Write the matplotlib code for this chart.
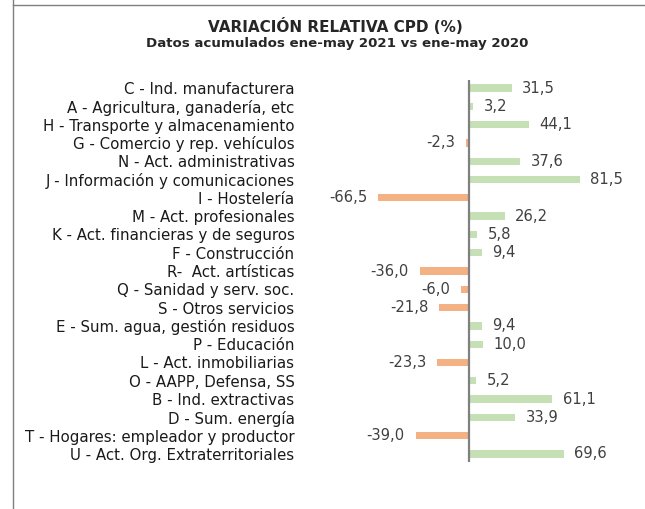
import matplotlib
matplotlib.use("Agg")
import matplotlib.pyplot as plt
from matplotlib.lines import Line2D

categories = [
    "C - Ind. manufacturera",
    "A - Agricultura, ganadería, etc",
    "H - Transporte y almacenamiento",
    "G - Comercio y rep. vehículos",
    "N - Act. administrativas",
    "J - Información y comunicaciones",
    "I - Hostelería",
    "M - Act. profesionales",
    "K - Act. financieras y de seguros",
    "F - Construcción",
    "R-  Act. artísticas",
    "Q - Sanidad y serv. soc.",
    "S - Otros servicios",
    "E - Sum. agua, gestión residuos",
    "P - Educación",
    "L - Act. inmobiliarias",
    "O - AAPP, Defensa, SS",
    "B - Ind. extractivas",
    "D - Sum. energía",
    "T - Hogares: empleador y productor",
    "U - Act. Org. Extraterritoriales",
]
values = [31.5, 3.2, 44.1, -2.3, 37.6, 81.5, -66.5, 26.2, 5.8, 9.4, -36.0,
          -6.0, -21.8, 9.4, 10.0, -23.3, 5.2, 61.1, 33.9, -39.0, 69.6]

GREEN = "#c5e0b4"
ORANGE = "#f4b183"
FONT = "DejaVu Sans"

W, H = 645, 509
fig = plt.figure(figsize=(W / 100, H / 100), dpi=100)

# axes geometry in pixels: zero line at x=469, 1.362 px per unit
ax_left, ax_right = 300, 640
zero_px, scale = 469, 1.362
ax_top, ax_bot = 80, 462
ax = fig.add_axes([ax_left / W, 1 - ax_bot / H,
                   (ax_right - ax_left) / W, (ax_bot - ax_top) / H])
ax.set_xlim((ax_left - zero_px) / scale, (ax_right - zero_px) / scale)

y = list(range(len(categories)))
colors = [GREEN if v >= 0 else ORANGE for v in values]
ax.barh(y, values, height=0.4, color=colors)
ax.set_ylim(20.44, -0.44)
ax.axvline(0, color="#808080", lw=1.6)

for yi, v in zip(y, values):
    txt = f"{v:.1f}".replace(".", ",")
    if v >= 0:
        ax.annotate(txt, (v, yi), xytext=(7.5, 0), textcoords="offset points",
                    ha="left", va="center", fontsize=10.6, color="#404040",
                    family=FONT)
    else:
        ax.annotate(txt, (v, yi), xytext=(-8, 0), textcoords="offset points",
                    ha="right", va="center", fontsize=10.6, color="#404040",
                    family=FONT)

ax.set_yticks(y)
ax.set_yticklabels(categories, fontsize=10.8, color="#1a1a1a", family=FONT)
ax.tick_params(axis="y", length=0, pad=4)
ax.set_xticks([])
for s in ax.spines.values():
    s.set_visible(False)

fig.text(335 / W, 1 - 27 / H, "VARIACIÓN RELATIVA CPD (%)", ha="center",
         va="center", fontsize=11, fontweight="bold", color="#262626",
         family=FONT)
fig.text(337 / W, 1 - 44 / H, "Datos acumulados ene-may 2021 vs ene-may 2020",
         ha="center", va="center", fontsize=9.6, fontweight="bold",
         color="#262626", family=FONT)

# frame lines of the original cell region
fig.add_artist(Line2D([13 / W, 13 / W], [0, 1], color="#7f7f7f", lw=1,
                      transform=fig.transFigure))
fig.add_artist(Line2D([13 / W, 1], [1 - 5 / H, 1 - 5 / H], color="#7f7f7f",
                      lw=1, transform=fig.transFigure))

fig.savefig("out.png", dpi=100)
